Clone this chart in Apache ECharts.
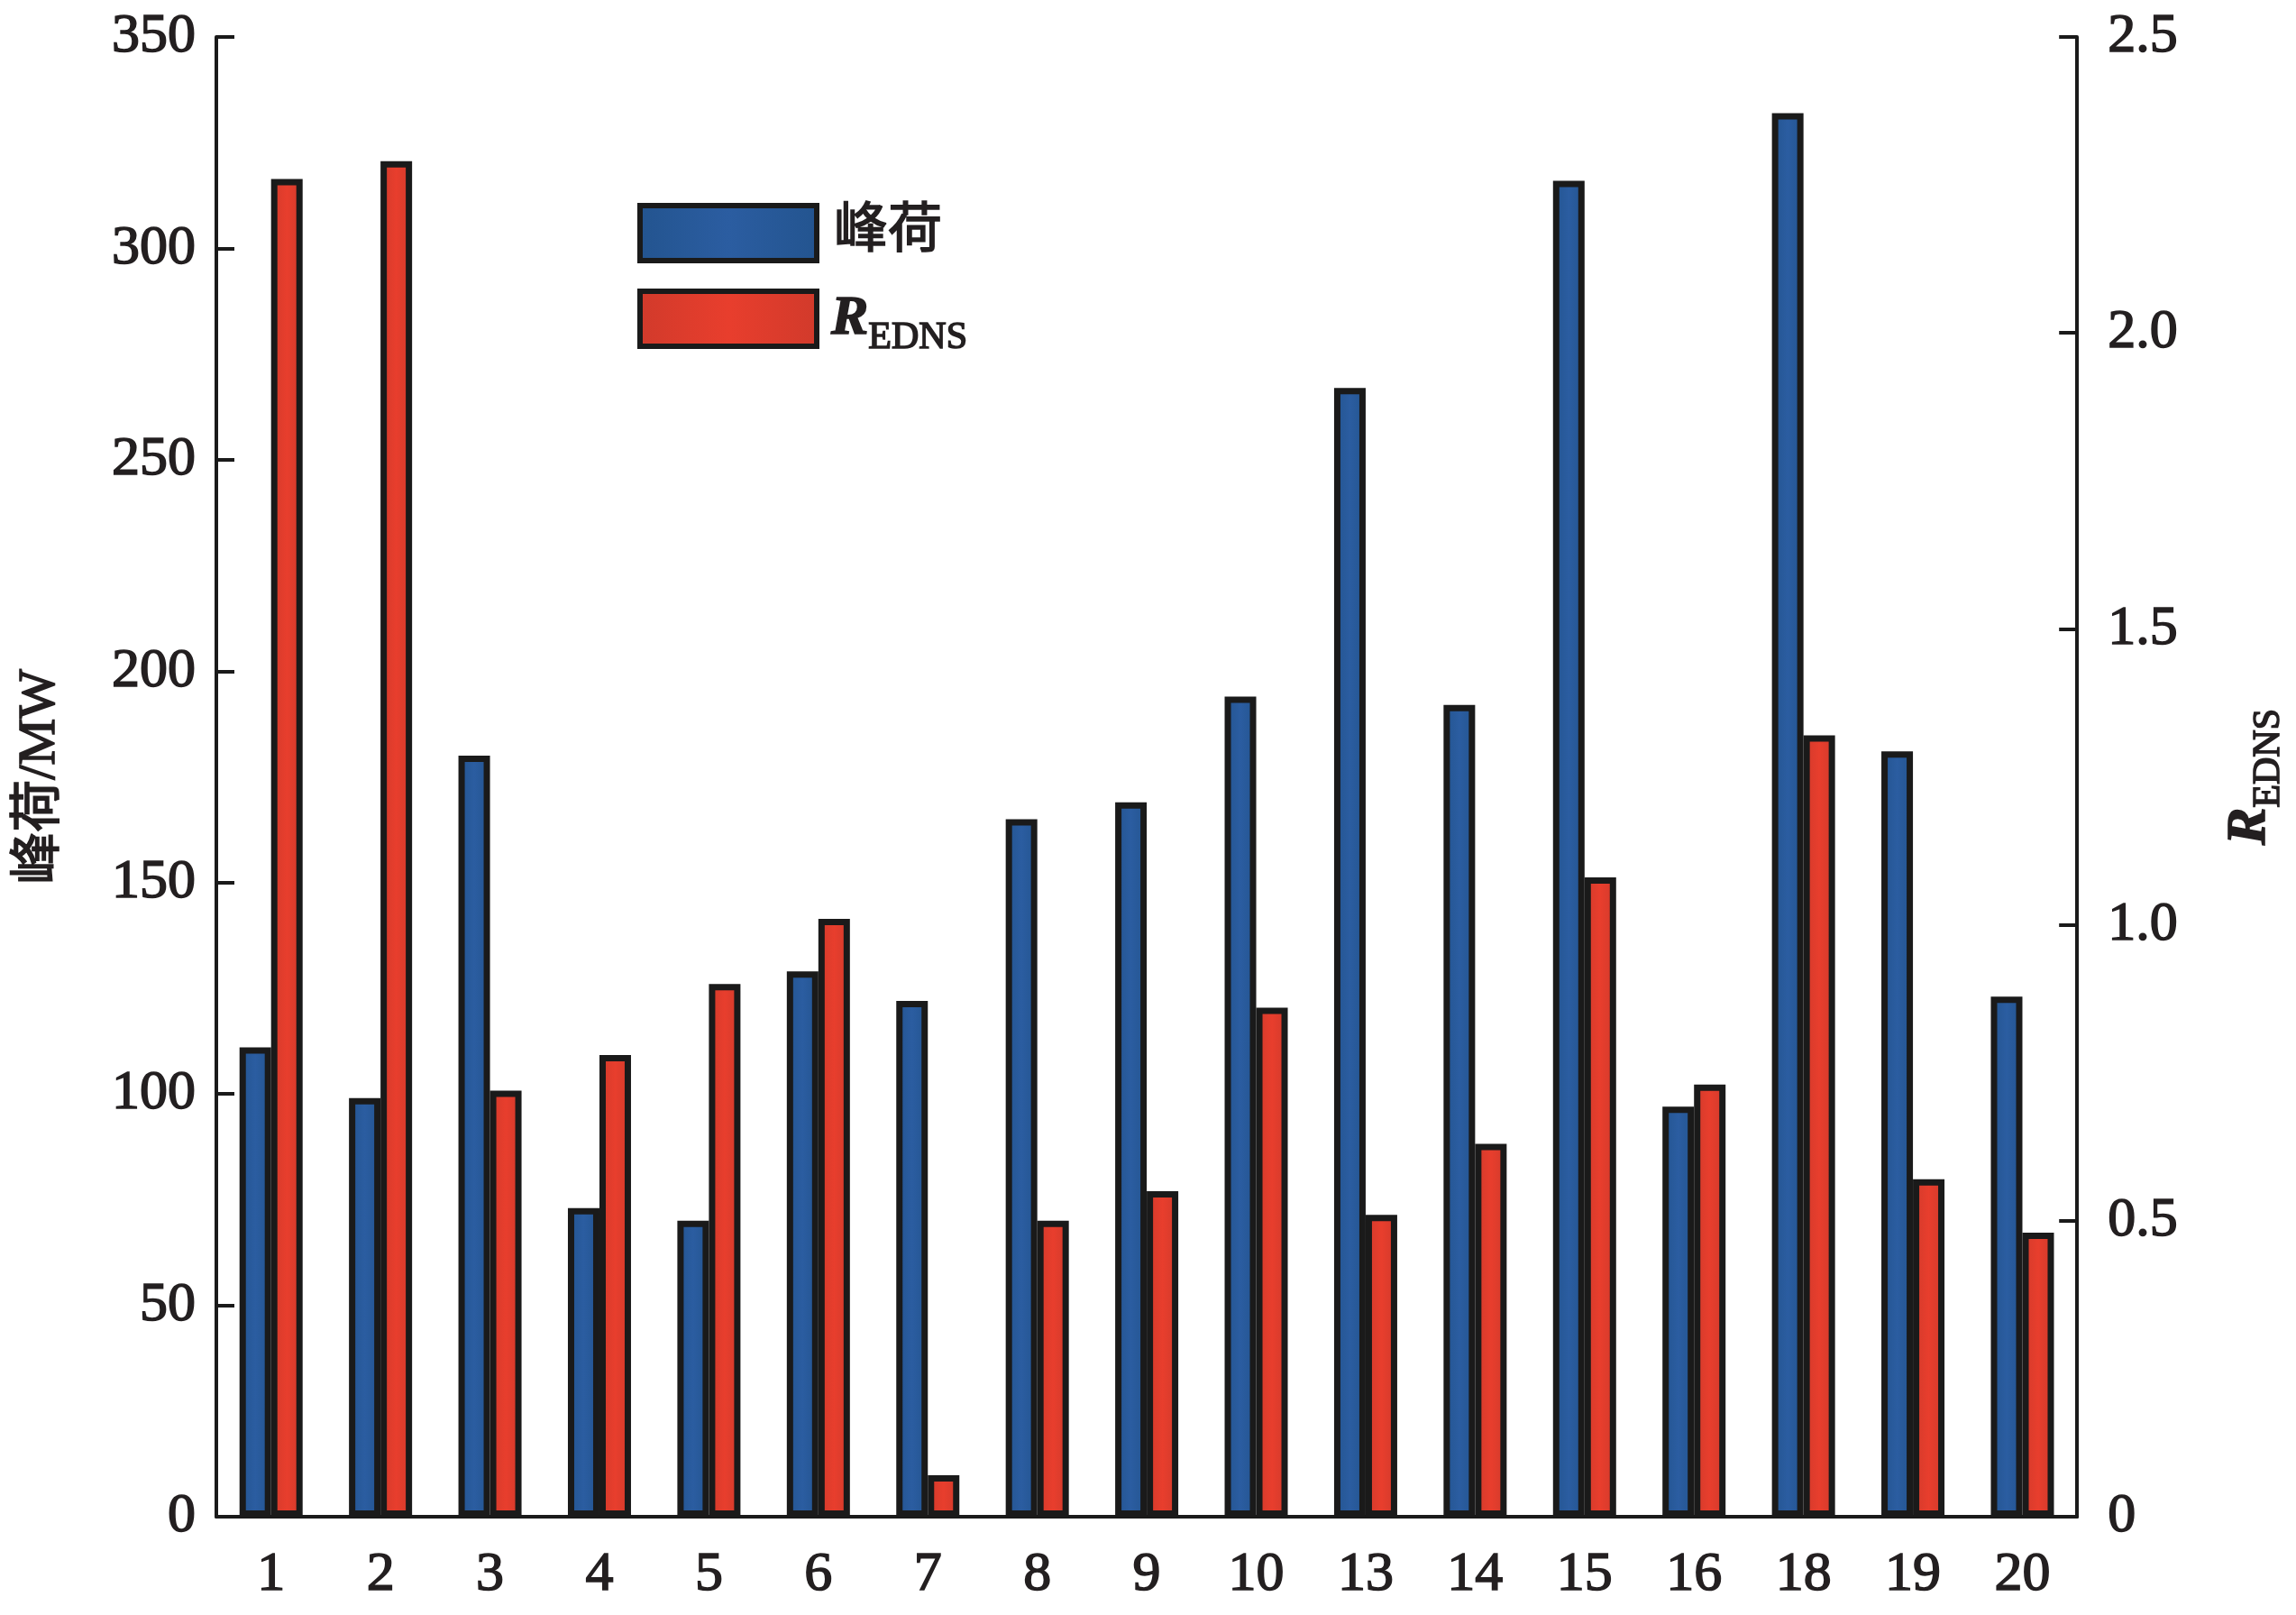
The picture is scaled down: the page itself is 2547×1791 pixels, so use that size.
<!DOCTYPE html>
<html>
<head>
<meta charset="utf-8">
<script src="https://cdn.jsdelivr.net/npm/echarts@6/dist/echarts.min.js"></script>
<style>
html,body{margin:0;padding:0;background:#fff;}
#chart{width:2547px;height:1791px;}
</style>
</head>
<body>
<div id="chart"></div>
<script>
const categories = ['1','2','3','4','5','6','7','8','9','10','13','14','15','16','18','19','20'];
const peakLoad = [111, 99, 180, 73, 70, 129, 122, 165, 169, 194, 267, 192, 316, 97, 332, 181, 123];
const rEdns = [2.26, 2.29, 0.72, 0.78, 0.90, 1.01, 0.07, 0.50, 0.55, 0.86, 0.51, 0.63, 1.08, 0.73, 1.32, 0.57, 0.48];
const leftTicks = {min: 0, max: 350, interval: 50};
const rightTicks = {min: 0, max: 2.5, interval: 0.5};

const serif = '"Liberation Serif", "Times New Roman", "Noto Sans CJK SC", serif';
const txt = '#231f20';
const lineC = '#1a1a1a';
const heavy = {textBorderColor: txt, textBorderWidth: 1.6};

const chart = echarts.init(document.getElementById('chart'), null, {renderer: 'canvas'});
const richName = {
  i: Object.assign({fontFamily: serif, fontSize: 62, fontStyle: 'italic', fontWeight: 'bold', color: txt, lineHeight: 84}, heavy),
  s: Object.assign({fontFamily: serif, fontSize: 42, color: txt, lineHeight: 84, verticalAlign: 'bottom'}, heavy)
};
const richLegend = {
  c: Object.assign({fontFamily: serif, fontSize: 60, color: txt, lineHeight: 84, padding: [0, 0, 0, 14]}, heavy),
  ip: Object.assign({fontFamily: serif, fontSize: 62, fontStyle: 'italic', fontWeight: 'bold', color: txt, lineHeight: 84, padding: [0, 0, 0, 11]}, heavy),
  s: Object.assign({fontFamily: serif, fontSize: 42, color: txt, lineHeight: 84, verticalAlign: 'bottom'}, heavy)
};
const tickLabel = Object.assign({fontFamily: serif, fontSize: 62, color: txt}, heavy);

chart.setOption({
  backgroundColor: '#ffffff',
  animation: false,
  grid: {left: 240, right: 234, top: 41, bottom: 109, containLabel: false},
  legend: {
    orient: 'vertical',
    left: 707,
    top: 225,
    padding: 0,
    itemWidth: 196,
    itemHeight: 61,
    itemGap: 28,
    icon: 'rect',
    itemStyle: {borderColor: lineC, borderWidth: 6},
    data: ['峰荷', 'R_EDNS'],
    formatter: function (name) {
      return name === 'R_EDNS' ? '{ip|R}{s|EDNS}' : '{c|' + name + '}';
    },
    textStyle: {rich: richLegend}
  },
  xAxis: {
    type: 'category',
    data: categories,
    axisLine: {show: true, lineStyle: {color: lineC, width: 4}},
    axisTick: {show: false},
    axisLabel: Object.assign({margin: 34, interval: 0}, tickLabel),
    splitLine: {show: false}
  },
  yAxis: [
    {
      type: 'value',
      position: 'left',
      min: leftTicks.min, max: leftTicks.max, interval: leftTicks.interval,
      name: '峰荷/MW',
      nameLocation: 'middle',
      nameRotate: 90,
      nameGap: 166,
      nameTextStyle: Object.assign({fontFamily: serif, fontSize: 58, color: txt}, heavy),
      axisLine: {show: true, lineStyle: {color: lineC, width: 4}},
      axisTick: {show: true, inside: true, length: 20, lineStyle: {color: lineC, width: 4}},
      axisLabel: Object.assign({margin: 23}, tickLabel),
      splitLine: {show: false}
    },
    {
      type: 'value',
      position: 'right',
      min: rightTicks.min, max: rightTicks.max, interval: rightTicks.interval,
      name: '{i|R}{s|EDNS}',
      nameLocation: 'middle',
      nameRotate: 90,
      nameGap: 150,
      nameTextStyle: {rich: richName},
      axisLine: {show: true, lineStyle: {color: lineC, width: 4}},
      axisTick: {show: true, inside: true, length: 20, lineStyle: {color: lineC, width: 4}},
      axisLabel: Object.assign({
        margin: 34,
        formatter: function (v) { return v === 0 ? '0' : v.toFixed(1); }
      }, tickLabel),
      splitLine: {show: false}
    }
  ],
  series: [
    {
      name: '峰荷',
      type: 'bar',
      yAxisIndex: 0,
      data: peakLoad,
      barWidth: 35,
      barGap: '0%',
      itemStyle: {
        color: new echarts.graphic.LinearGradient(0, 0, 1, 0, [
          {offset: 0, color: '#23548f'},
          {offset: 0.5, color: '#2b5da1'},
          {offset: 1, color: '#23548f'}
        ]),
        borderColor: lineC, borderWidth: 7
      }
    },
    {
      name: 'R_EDNS',
      type: 'bar',
      yAxisIndex: 1,
      data: rEdns,
      barWidth: 35,
      barGap: '0%',
      itemStyle: {
        color: new echarts.graphic.LinearGradient(0, 0, 1, 0, [
          {offset: 0, color: '#d13a2b'},
          {offset: 0.5, color: '#e83e2d'},
          {offset: 1, color: '#d13a2b'}
        ]),
        borderColor: lineC, borderWidth: 7
      }
    }
  ]
});
</script>
</body>
</html>
